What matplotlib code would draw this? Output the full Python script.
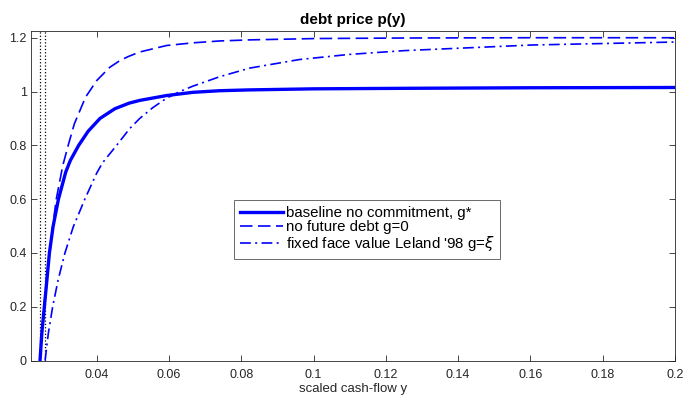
import matplotlib.pyplot as plt
import numpy as np

plt.rcParams['font.family'] = ['Liberation Sans', 'DejaVu Sans']

# baseline no commitment, g*
y_base = [0.0243, 0.0248, 0.0255, 0.0262, 0.0269, 0.0279, 0.0294, 0.0314, 0.0327,
          0.0350, 0.0376, 0.0409, 0.0450, 0.0490, 0.0519, 0.0593, 0.0666, 0.0740,
          0.0820, 0.1000, 0.1260, 0.1600, 0.2000]
p_base = [0.0, 0.101, 0.20, 0.299, 0.40, 0.497, 0.60, 0.700, 0.744,
          0.80, 0.852, 0.900, 0.936, 0.957, 0.967, 0.985, 0.997, 1.003,
          1.006, 1.010, 1.012, 1.014, 1.015]

# no future debt g=0
y_nodebt = [0.0243, 0.0248, 0.0254, 0.0261, 0.0270, 0.0278, 0.0288, 0.0306, 0.0321,
            0.0338, 0.0369, 0.0400, 0.0436, 0.0464, 0.0487, 0.0519, 0.0593, 0.0666,
            0.0740, 0.0823, 0.1007, 0.1260, 0.1600, 0.2000]
p_nodebt = [0.0, 0.101, 0.20, 0.299, 0.40, 0.497, 0.60, 0.725, 0.80,
            0.88, 0.979, 1.041, 1.090, 1.115, 1.130, 1.147, 1.171, 1.181,
            1.188, 1.192, 1.197, 1.199, 1.200, 1.200]

# fixed face value Leland '98
y_leland = [0.0257, 0.0266, 0.0278, 0.0293, 0.0312, 0.0335, 0.0367, 0.0400, 0.0416,
            0.0455, 0.0491, 0.0519, 0.0555, 0.0593, 0.0630, 0.0666, 0.0740, 0.0823,
            0.0961, 0.1099, 0.1250, 0.1605, 0.2000]
p_leland = [0.0, 0.101, 0.20, 0.299, 0.40, 0.497, 0.60, 0.697, 0.735,
            0.80, 0.862, 0.900, 0.940, 0.975, 1.000, 1.020, 1.055, 1.087,
            1.119, 1.138, 1.152, 1.173, 1.184]

# default boundaries
y_default = [0.0243, 0.0257]

xticks = [0.04, 0.06, 0.08, 0.1, 0.12, 0.14, 0.16, 0.18, 0.2]
xticklabels = ['0.04', '0.06', '0.08', '0.1', '0.12', '0.14', '0.16', '0.18', '0.2']
yticks = [0, 0.2, 0.4, 0.6, 0.8, 1, 1.2]
yticklabels = ['0', '0.2', '0.4', '0.6', '0.8', '1', '1.2']

fig = plt.figure(figsize=(6.84, 3.98), dpi=100)
ax = fig.add_axes([0.0453, 0.0942, 0.9415, 0.8279])

for yd in y_default:
    ax.axvline(yd, color='k', linestyle=':', linewidth=0.9)

ax.plot(y_base, p_base, color='b', linewidth=2.4, solid_joinstyle='round',
        label='baseline no commitment, g*')
ax.plot(y_nodebt, p_nodebt, color='b', linewidth=1.2, linestyle=(0, (7.5, 3.3)),
        label='no future debt g=0')
ax.plot(y_leland, p_leland, color='b', linewidth=1.2, linestyle=(0, (6.5, 2.6, 1.2, 2.6)),
        label="fixed face value Leland '98 g=$\\xi$")

ax.set_xlim(0.0218, 0.2)
ax.set_ylim(0, 1.225)
ax.set_xticks(xticks)
ax.set_xticklabels(xticklabels)
ax.set_yticks(yticks)
ax.set_yticklabels(yticklabels)
ax.tick_params(direction='in', top=True, right=True, length=4, width=0.6,
               labelsize=9, colors='#262626')
ax.tick_params(axis='x', pad=6)
ax.tick_params(axis='y', pad=3)
for s in ax.spines.values():
    s.set_color('#262626')
    s.set_linewidth(0.6)

ax.set_title('debt price p(y)', fontsize=11, fontweight='bold', pad=5)
ax.set_xlabel('scaled cash-flow y', fontsize=9.5, color='#262626', labelpad=1.5)

leg = ax.legend(loc='center', bbox_to_anchor=(0.522, 0.398), fontsize=10.8, frameon=True,
                fancybox=False, edgecolor='#262626', handlelength=2.9, handletextpad=0.15,
                borderpad=0.4, labelspacing=0.0, borderaxespad=0)
leg.get_frame().set_linewidth(0.6)

fig.savefig('out.png', dpi=100)
